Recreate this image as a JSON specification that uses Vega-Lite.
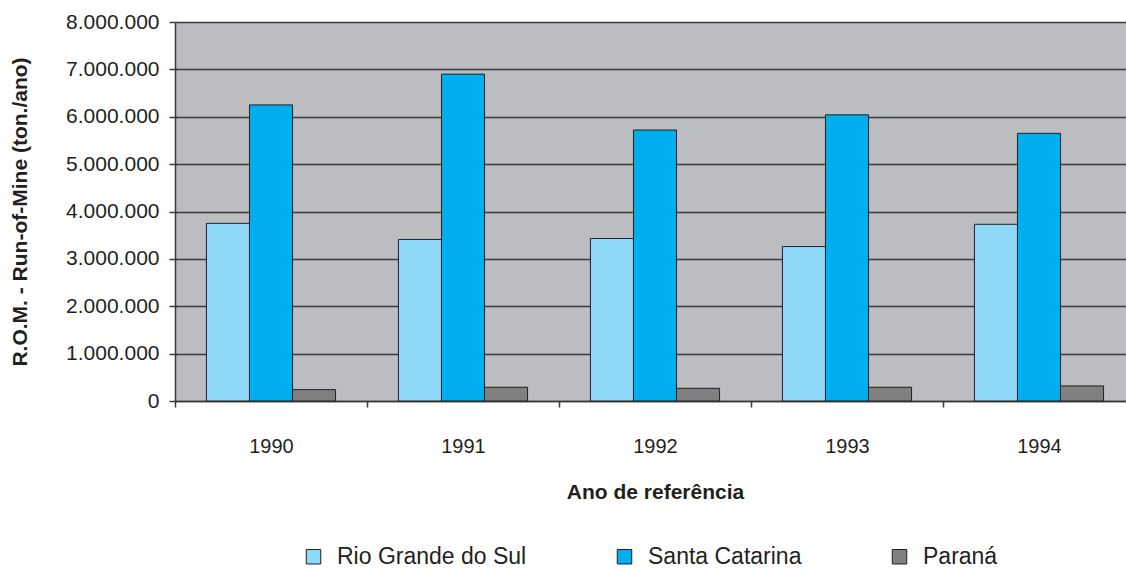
{
  "$schema": "https://vega.github.io/schema/vega-lite/v6.json",
  "width": 960,
  "height": 379,
  "autosize": {"type": "none"},
  "padding": {"left": 175, "top": 22, "right": 0, "bottom": 167},
  "background": "white",
  "data": {
    "values": [
      {"ano": "1990", "estado": "Rio Grande do Sul", "rom": 3750000},
      {"ano": "1990", "estado": "Santa Catarina", "rom": 6250000},
      {"ano": "1990", "estado": "Paraná", "rom": 240000},
      {"ano": "1991", "estado": "Rio Grande do Sul", "rom": 3410000},
      {"ano": "1991", "estado": "Santa Catarina", "rom": 6900000},
      {"ano": "1991", "estado": "Paraná", "rom": 290000},
      {"ano": "1992", "estado": "Rio Grande do Sul", "rom": 3430000},
      {"ano": "1992", "estado": "Santa Catarina", "rom": 5720000},
      {"ano": "1992", "estado": "Paraná", "rom": 268000},
      {"ano": "1993", "estado": "Rio Grande do Sul", "rom": 3260000},
      {"ano": "1993", "estado": "Santa Catarina", "rom": 6040000},
      {"ano": "1993", "estado": "Paraná", "rom": 290000},
      {"ano": "1994", "estado": "Rio Grande do Sul", "rom": 3730000},
      {"ano": "1994", "estado": "Santa Catarina", "rom": 5650000},
      {"ano": "1994", "estado": "Paraná", "rom": 318000}
    ]
  },
  "mark": {"type": "bar", "stroke": "#231F20", "strokeWidth": 1},
  "encoding": {
    "x": {
      "field": "ano",
      "type": "nominal",
      "scale": {"paddingInner": 0, "paddingOuter": 0},
      "axis": {
        "title": "Ano de referência",
        "labelAngle": 0,
        "tickBand": "extent",
        "tickSize": 6,
        "labelFontSize": 20,
        "labelPadding": 29,
        "titlePadding": 25,
        "grid": false
      }
    },
    "xOffset": {
      "field": "estado",
      "type": "nominal",
      "sort": ["Rio Grande do Sul", "Santa Catarina", "Paraná"],
      "scale": {"paddingInner": 0, "paddingOuter": 0.73}
    },
    "y": {
      "field": "rom",
      "type": "quantitative",
      "scale": {"domain": [0, 8000000], "nice": false},
      "axis": {
        "title": "R.O.M. - Run-of-Mine (ton./ano)",
        "values": [0, 1000000, 2000000, 3000000, 4000000, 5000000, 6000000, 7000000, 8000000],
        "format": ",.0f",
        "tickSize": 6,
        "labelFontSize": 21,
        "labelPadding": 10,
        "titlePadding": 35,
        "grid": true
      }
    },
    "color": {
      "field": "estado",
      "type": "nominal",
      "sort": ["Rio Grande do Sul", "Santa Catarina", "Paraná"],
      "scale": {
        "domain": ["Rio Grande do Sul", "Santa Catarina", "Paraná"],
        "range": ["#8ED8F8", "#00AEEF", "#808080"]
      },
      "legend": {
        "title": null,
        "orient": "none",
        "direction": "horizontal",
        "legendX": 127,
        "legendY": 523,
        "symbolType": "square",
        "symbolSize": 210,
        "symbolStrokeColor": "#231F20",
        "symbolStrokeWidth": 1,
        "symbolOpacity": 1,
        "labelFontSize": 23,
        "labelOffset": 12,
        "labelLimit": 500,
        "columnPadding": 86,
        "labelColor": "#231F20",
        "labelFont": "Liberation Sans"
      }
    }
  },
  "config": {
    "locale": {
      "number": {"decimal": ",", "thousands": ".", "grouping": [3], "currency": ["R$ ", ""]}
    },
    "font": "Liberation Sans",
    "view": {"fill": "#BCBDC0", "stroke": null},
    "axis": {
      "labelFont": "Liberation Sans",
      "titleFont": "Liberation Sans",
      "titleFontSize": 21,
      "titleFontWeight": "bold",
      "labelColor": "#231F20",
      "titleColor": "#231F20",
      "domainColor": "#3A3A3A",
      "domainWidth": 1.5,
      "tickColor": "#3A3A3A",
      "tickWidth": 1.5,
      "gridColor": "#3A3A3A",
      "gridWidth": 1.5,
      "gridOpacity": 1
    }
  }
}
